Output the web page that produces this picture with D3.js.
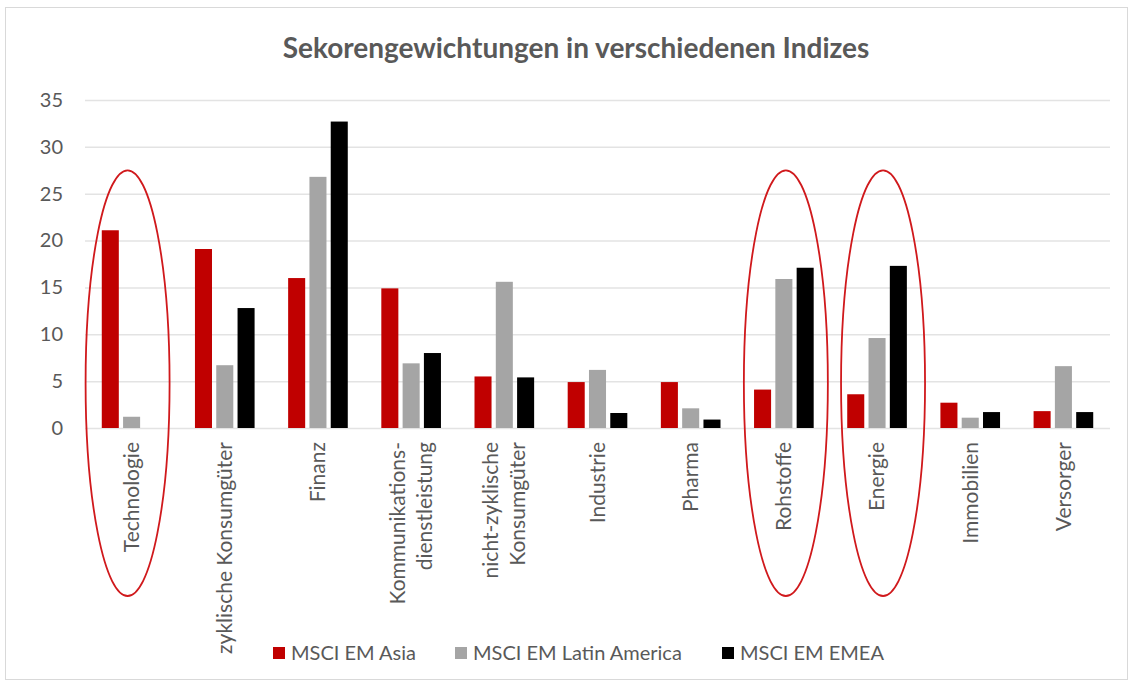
<!DOCTYPE html>
<html>
<head>
<meta charset="utf-8">
<script src="https://cdn.jsdelivr.net/npm/d3@7"></script>
<style>
  body { margin: 0; background: #fff; }
  text { font-family: Lato, "Open Sans", sans-serif; fill: #595959; }
</style>
</head>
<body>
<div id="chart"></div>
<script>
var categories = ["Technologie", "zyklische Konsumgüter", "Finanz", "Kommunikations-|dienstleistung",
    "nicht-zyklische|Konsumgüter", "Industrie", "Pharma", "Rohstoffe", "Energie", "Immobilien", "Versorger"]
var series = ["MSCI EM Asia", "MSCI EM Latin America", "MSCI EM EMEA"]
var colors = ["#c00000", "#a5a5a5", "#000000"]
var asia = [21.1, 19.1, 16.0, 14.9, 5.5, 4.9, 4.9, 4.1, 3.6, 2.7, 1.8]
var latam = [1.2, 6.7, 26.8, 6.9, 15.6, 6.2, 2.1, 15.9, 9.6, 1.1, 6.6]
var emea = [0, 12.8, 32.7, 8.0, 5.4, 1.6, 0.9, 17.1, 17.3, 1.7, 1.7]
var yTicks = [0, 5, 10, 15, 20, 25, 30, 35]
var circled = ["Technologie", "Rohstoffe", "Energie"]
var circle_shift = [-4, 2, 6]   // hand drawn, not quite centred

var W = 1135, H = 684
var p_l = 85, p_r = 1110, p_t = 100, p_b = 428

var svg = d3.select("#chart").append("svg")
    .attr("width", W)
    .attr("height", H)

// outer frame
svg.append("rect")
    .attr("x", 5.5).attr("y", 7.5)
    .attr("width", 1122).attr("height", 672)
    .style("fill", "none")
    .style("stroke", "#d9d9d9")

svg.append("text")
    .attr("x", 576)
    .attr("y", 58)
    .attr("text-anchor", "middle")
    .style("font-size", "28px")
    .style("font-weight", "bold")
    .text("Sekorengewichtungen in verschiedenen Indizes")

var y = d3.scaleLinear().domain([0, 35]).range([p_b, p_t])
var x = d3.scaleBand().domain(categories).range([p_l, p_r])
var bw = x.bandwidth()
var x1 = d3.scaleBand().domain(series)
    .range([bw * 0.18, bw * 0.82])
    .paddingInner(0.2)

// grid + y labels
var yAxis = d3.axisLeft(y).tickValues(yTicks).tickSize(-(p_r - p_l)).tickPadding(22)
var gy = svg.append("g")
    .attr("transform", "translate(" + p_l + ",0)")
    .call(yAxis)
gy.select(".domain").remove()
gy.selectAll(".tick line").style("stroke", "#e3e3e3").style("stroke-width", "1.5px")
gy.selectAll(".tick text")
    .style("font-size", "20px")
    .style("fill", "#595959")
    .style("font-family", "Lato, sans-serif")

// bars
var values = [asia, latam, emea]
var rows = []
categories.forEach(function(c, i) {
    series.forEach(function(s, k) {
        rows.push({cat: c, s: s, k: k, v: values[k][i]})
    })
})

svg.selectAll(".bar").data(rows).enter()
    .append("rect")
    .attr("class", "bar")
    .attr("x", function(d) { return x(d.cat) + x1(d.s) })
    .attr("width", x1.bandwidth())
    .attr("y", function(d) { return y(d.v) })
    .attr("height", function(d) { return p_b - y(d.v) })
    .style("fill", function(d) { return colors[d.k] })

// category labels, rotated
var labels = svg.selectAll(".cat").data(categories).enter()
    .append("text")
    .attr("class", "cat")
    .attr("transform", function(d) {
        return "translate(" + (x(d) + bw / 2) + ",442) rotate(-90)"
    })
    .attr("text-anchor", "end")
    .style("font-size", "21px")

labels.each(function(d) {
    var lines = d.split("|")
    var t = d3.select(this)
    lines.forEach(function(l, i) {
        var off = (i - (lines.length - 1) / 2) * 1.3
        t.append("tspan")
            .attr("x", 0)
            .attr("y", 0)
            .attr("dy", (off + 0.35) + "em")
            .text(l)
    })
})

// red ellipses
svg.selectAll(".mark").data(circled).enter()
    .append("ellipse")
    .attr("class", "mark")
    .attr("cx", function(d, i) { return x(d) + bw / 2 + circle_shift[i] })
    .attr("cy", (y(27.5) + 596) / 2)
    .attr("rx", 42)
    .attr("ry", (596 - y(27.5)) / 2)
    .style("fill", "none")
    .style("stroke", "#d0191c")
    .style("stroke-width", "1.8px")

// legend
var legX = [273, 455, 722]
var leg = svg.selectAll(".leg").data(series).enter()
    .append("g")
    .attr("class", "leg")
    .attr("transform", function(d, i) { return "translate(" + legX[i] + ",653)" })
leg.append("rect")
    .attr("x", 0).attr("y", -6)
    .attr("width", 12).attr("height", 12)
    .style("fill", function(d, i) { return colors[i] })
leg.append("text")
    .attr("x", 18)
    .attr("dy", "0.35em")
    .style("font-size", "20px")
    .text(function(d) { return d })
</script>
</body>
</html>
